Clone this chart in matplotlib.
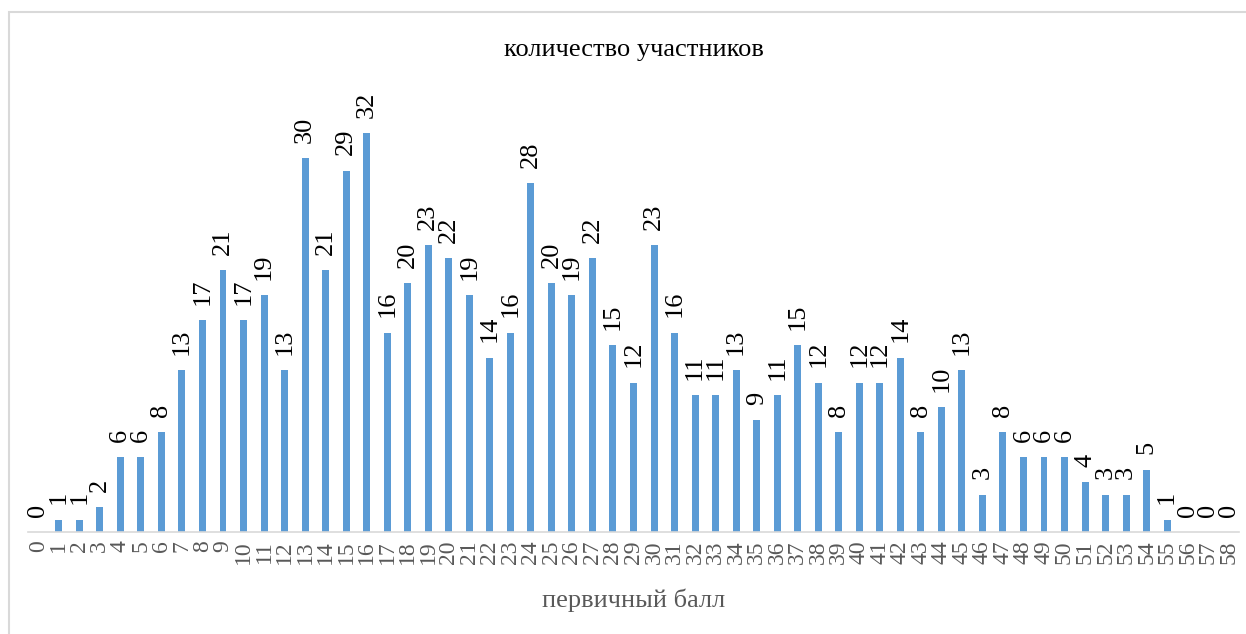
import matplotlib.pyplot as plt
from matplotlib.patches import Rectangle

scores = list(range(0, 59))
counts = [0, 1, 1, 2, 6, 6, 8, 13, 17, 21, 17, 19, 13, 30, 21, 29, 32, 16, 20, 23,
          22, 19, 14, 16, 28, 20, 19, 22, 15, 12, 23, 16, 11, 11, 13, 9, 11, 15, 12, 8,
          12, 12, 14, 8, 10, 13, 3, 8, 6, 6, 6, 4, 3, 3, 5, 1, 0, 0, 0]
title = "количество участников"
xlabel = "первичный балл"

plt.rcParams["font.family"] = ["Liberation Serif", "DejaVu Serif"]

W, H = 1246, 634
fig = plt.figure(figsize=(W / 100, H / 100), dpi=100)

# outer chart border (right/bottom edges fall outside the picture)
fig.patches.append(Rectangle((9 / W, -0.1), 1.2, 1.1 - 12 / H,
                             transform=fig.transFigure, fill=False,
                             edgecolor="#d9d9d9", linewidth=1.5))

ax = fig.add_axes([28 / W, 102 / H, 1211 / W, 436 / H])
bars = ax.bar(scores, counts, width=0.34, color="#5b9bd5")
ax.bar_label(bars, labels=[str(c) for c in counts], rotation=90,
             padding=11, fontsize=19, color="black")

ax.set_xlim(-0.5, 58.5)
ax.set_ylim(0, 35)
ax.set_yticks([])
ax.set_xticks(scores)
ax.set_xticklabels([str(s) for s in scores], rotation=90, fontsize=17,
                   color="#595959")
ax.tick_params(axis="x", length=0, pad=6)
for s in ["top", "right", "left"]:
    ax.spines[s].set_visible(False)
ax.spines["bottom"].set_color("#d9d9d9")
ax.spines["bottom"].set_linewidth(1.2)

fig.text(634 / W, 1 - 50 / H, title, ha="center", va="center", fontsize=19)
fig.text(634 / W, 1 - 600 / H, xlabel, ha="center", va="center", fontsize=19,
         color="#595959")

fig.savefig("out.png", dpi=100)
